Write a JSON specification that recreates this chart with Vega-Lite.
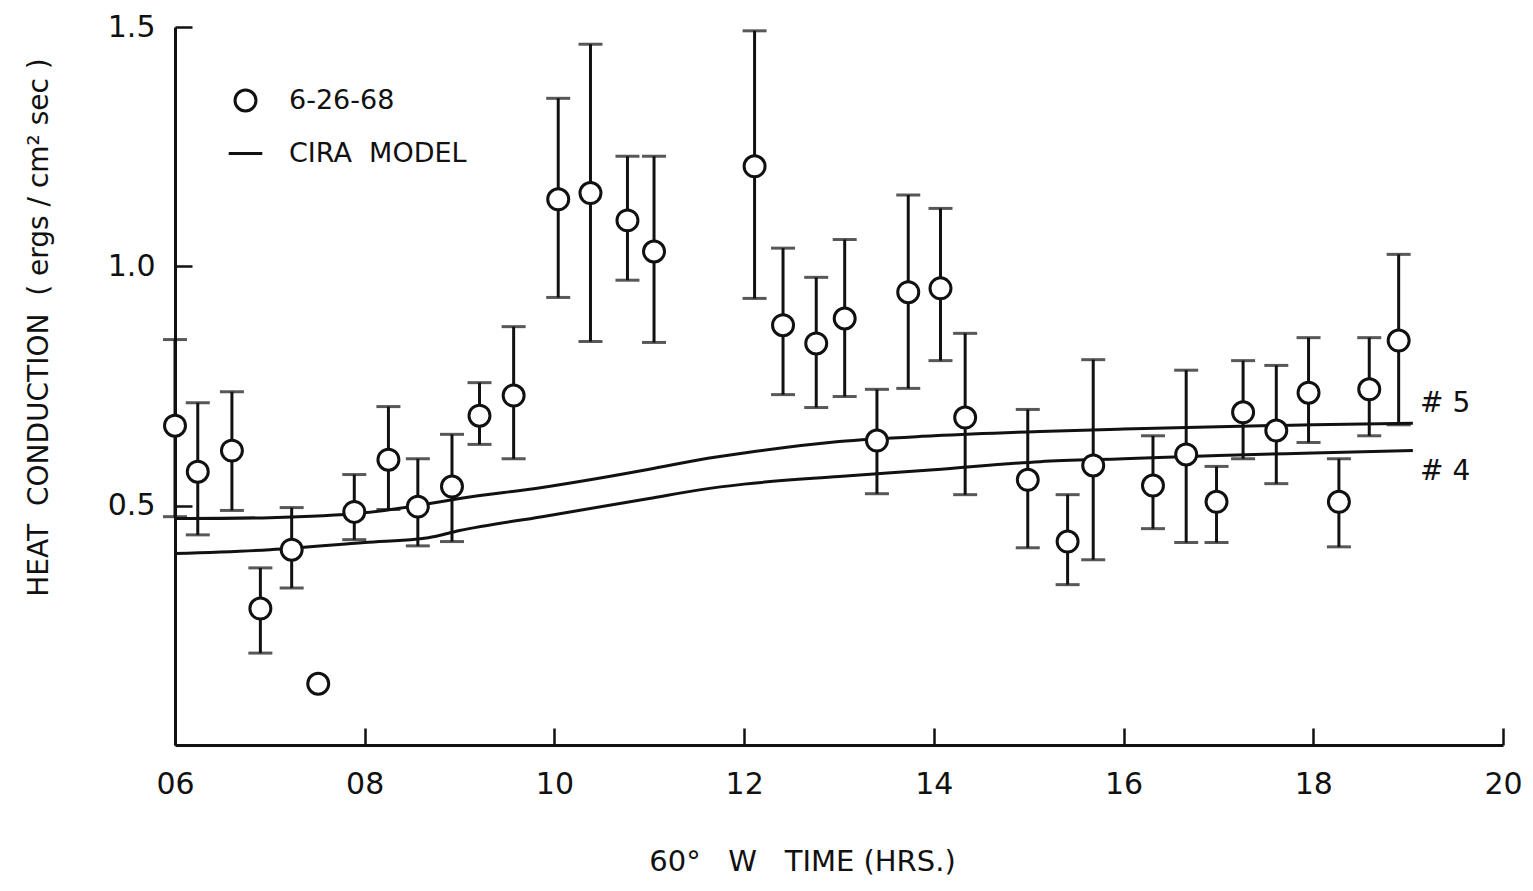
{
  "$schema": "https://vega.github.io/schema/vega-lite/v6.json",
  "width": 1328,
  "height": 718,
  "autosize": {"type": "none"},
  "padding": {"left": 175, "top": 27, "right": 30, "bottom": 146},
  "background": "white",
  "config": {
    "view": {"stroke": null},
    "font": "DejaVu Sans",
    "axis": {
      "grid": false,
      "domainColor": "#111",
      "domainWidth": 3,
      "tickColor": "#111",
      "tickWidth": 2.5,
      "tickSize": -17,
      "labelFlush": false,
      "labelColor": "#111",
      "labelFont": "DejaVu Sans",
      "labelFontSize": 30,
      "titleColor": "#111",
      "titleFont": "DejaVu Sans",
      "titleFontSize": 28,
      "titleFontWeight": "normal"
    }
  },
  "datasets": {
    "obs": [
      {"t": 6.0, "v": 0.667, "lo": 0.477, "hi": 0.847, "series": "6-26-68"},
      {"t": 6.24, "v": 0.571, "lo": 0.439, "hi": 0.715, "series": "6-26-68"},
      {"t": 6.6, "v": 0.615, "lo": 0.49, "hi": 0.738, "series": "6-26-68"},
      {"t": 6.9, "v": 0.285, "lo": 0.192, "hi": 0.37, "series": "6-26-68"},
      {"t": 7.23, "v": 0.408, "lo": 0.328, "hi": 0.496, "series": "6-26-68"},
      {"t": 7.51, "v": 0.128, "lo": null, "hi": null, "series": "6-26-68"},
      {"t": 7.89, "v": 0.487, "lo": 0.429, "hi": 0.565, "series": "6-26-68"},
      {"t": 8.25, "v": 0.596, "lo": 0.492, "hi": 0.707, "series": "6-26-68"},
      {"t": 8.56, "v": 0.498, "lo": 0.416, "hi": 0.598, "series": "6-26-68"},
      {"t": 8.92, "v": 0.54, "lo": 0.425, "hi": 0.649, "series": "6-26-68"},
      {"t": 9.21, "v": 0.688, "lo": 0.628, "hi": 0.757, "series": "6-26-68"},
      {"t": 9.57, "v": 0.73, "lo": 0.598, "hi": 0.874, "series": "6-26-68"},
      {"t": 10.04, "v": 1.14, "lo": 0.935, "hi": 1.351, "series": "6-26-68"},
      {"t": 10.38, "v": 1.153, "lo": 0.843, "hi": 1.464, "series": "6-26-68"},
      {"t": 10.77, "v": 1.096, "lo": 0.971, "hi": 1.23, "series": "6-26-68"},
      {"t": 11.05, "v": 1.031, "lo": 0.841, "hi": 1.23, "series": "6-26-68"},
      {"t": 12.11, "v": 1.209, "lo": 0.933, "hi": 1.492, "series": "6-26-68"},
      {"t": 12.41, "v": 0.877, "lo": 0.732, "hi": 1.038, "series": "6-26-68"},
      {"t": 12.76, "v": 0.839, "lo": 0.705, "hi": 0.977, "series": "6-26-68"},
      {"t": 13.06, "v": 0.891, "lo": 0.728, "hi": 1.056, "series": "6-26-68"},
      {"t": 13.4, "v": 0.636, "lo": 0.525, "hi": 0.743, "series": "6-26-68"},
      {"t": 13.73, "v": 0.946, "lo": 0.745, "hi": 1.149, "series": "6-26-68"},
      {"t": 14.07, "v": 0.954, "lo": 0.803, "hi": 1.121, "series": "6-26-68"},
      {"t": 14.33, "v": 0.684, "lo": 0.523, "hi": 0.86, "series": "6-26-68"},
      {"t": 14.99, "v": 0.554, "lo": 0.412, "hi": 0.701, "series": "6-26-68"},
      {"t": 15.41, "v": 0.425, "lo": 0.335, "hi": 0.523, "series": "6-26-68"},
      {"t": 15.68, "v": 0.584, "lo": 0.387, "hi": 0.805, "series": "6-26-68"},
      {"t": 16.31, "v": 0.542, "lo": 0.452, "hi": 0.646, "series": "6-26-68"},
      {"t": 16.66, "v": 0.607, "lo": 0.423, "hi": 0.783, "series": "6-26-68"},
      {"t": 16.98, "v": 0.508, "lo": 0.423, "hi": 0.582, "series": "6-26-68"},
      {"t": 17.26, "v": 0.695, "lo": 0.598, "hi": 0.803, "series": "6-26-68"},
      {"t": 17.61, "v": 0.657, "lo": 0.546, "hi": 0.793, "series": "6-26-68"},
      {"t": 17.95, "v": 0.736, "lo": 0.632, "hi": 0.851, "series": "6-26-68"},
      {"t": 18.27, "v": 0.508, "lo": 0.414, "hi": 0.598, "series": "6-26-68"},
      {"t": 18.59, "v": 0.743, "lo": 0.646, "hi": 0.851, "series": "6-26-68"},
      {"t": 18.9, "v": 0.845, "lo": 0.669, "hi": 1.025, "series": "6-26-68"}
    ],
    "model": [
      {"t": 6.0, "v": 0.473, "curve": "#5"},
      {"t": 7.0, "v": 0.475, "curve": "#5"},
      {"t": 8.0, "v": 0.485, "curve": "#5"},
      {"t": 8.67, "v": 0.504, "curve": "#5"},
      {"t": 9.0, "v": 0.515, "curve": "#5"},
      {"t": 9.87, "v": 0.538, "curve": "#5"},
      {"t": 11.0, "v": 0.576, "curve": "#5"},
      {"t": 11.53, "v": 0.596, "curve": "#5"},
      {"t": 12.0, "v": 0.61, "curve": "#5"},
      {"t": 13.0, "v": 0.634, "curve": "#5"},
      {"t": 14.0, "v": 0.646, "curve": "#5"},
      {"t": 15.12, "v": 0.655, "curve": "#5"},
      {"t": 16.0, "v": 0.66, "curve": "#5"},
      {"t": 17.0, "v": 0.665, "curve": "#5"},
      {"t": 18.0, "v": 0.669, "curve": "#5"},
      {"t": 19.05, "v": 0.672, "curve": "#5"},
      {"t": 6.0, "v": 0.4, "curve": "#4"},
      {"t": 7.0, "v": 0.408, "curve": "#4"},
      {"t": 8.0, "v": 0.423, "curve": "#4"},
      {"t": 8.67, "v": 0.433, "curve": "#4"},
      {"t": 9.0, "v": 0.448, "curve": "#4"},
      {"t": 9.87, "v": 0.477, "curve": "#4"},
      {"t": 11.0, "v": 0.515, "curve": "#4"},
      {"t": 11.53, "v": 0.533, "curve": "#4"},
      {"t": 12.0, "v": 0.545, "curve": "#4"},
      {"t": 13.0, "v": 0.561, "curve": "#4"},
      {"t": 14.0, "v": 0.575, "curve": "#4"},
      {"t": 15.12, "v": 0.592, "curve": "#4"},
      {"t": 16.0, "v": 0.598, "curve": "#4"},
      {"t": 17.0, "v": 0.605, "curve": "#4"},
      {"t": 18.0, "v": 0.61, "curve": "#4"},
      {"t": 19.05, "v": 0.615, "curve": "#4"}
    ],
    "notes": [
      {"t": 19.39, "v": 0.713, "label": "# 5"},
      {"t": 19.39, "v": 0.571, "label": "# 4"}
    ]
  },
  "encoding": {
    "x": {
      "field": "t",
      "type": "quantitative",
      "scale": {"domain": [6, 20], "nice": false},
      "axis": {
        "title": "60°\u00a0\u00a0\u00a0W\u00a0\u00a0\u00a0TIME\u00a0(HRS.)",
        "titleFontSize": 29,
        "values": [6, 8, 10, 12, 14, 16, 18, 20],
        "labelExpr": "datum.value < 10 ? '0' + datum.value : '' + datum.value",
        "labelPadding": 41,
        "titleX": 627,
        "titleY": 102
      }
    }
  },
  "layer": [
    {
      "data": {"name": "model"},
      "mark": {"type": "line", "color": "#111", "strokeWidth": 3, "interpolate": "monotone"},
      "encoding": {
        "y": {
          "field": "v",
          "type": "quantitative",
          "scale": {"domain": [0, 1.5], "nice": false},
          "title": "HEAT\u00a0\u00a0CONDUCTION\u00a0\u00a0(\u00a0ergs / cm² sec\u00a0)",
          "axis": {
            "values": [0.5, 1.0, 1.5],
            "format": ".1f",
            "labelPadding": 37,
            "titleX": -122,
            "titleY": 300
          }
        },
        "detail": {"field": "curve", "type": "nominal"}
      }
    },
    {
      "data": {"name": "obs"},
      "transform": [{"filter": "isValid(datum.lo)"}],
      "mark": {"type": "rule", "color": "#111", "strokeWidth": 3},
      "encoding": {
        "y": {"field": "lo", "type": "quantitative", "title": "HEAT\u00a0\u00a0CONDUCTION\u00a0\u00a0(\u00a0ergs / cm² sec\u00a0)"},
        "y2": {"field": "hi"}
      }
    },
    {
      "data": {"name": "obs"},
      "transform": [{"filter": "isValid(datum.lo)"}],
      "mark": {"type": "tick", "orient": "horizontal", "color": "#111", "size": 24, "thickness": 3},
      "encoding": {
        "y": {"field": "lo", "type": "quantitative", "title": "HEAT\u00a0\u00a0CONDUCTION\u00a0\u00a0(\u00a0ergs / cm² sec\u00a0)"}
      }
    },
    {
      "data": {"name": "obs"},
      "transform": [{"filter": "isValid(datum.hi)"}],
      "mark": {"type": "tick", "orient": "horizontal", "color": "#111", "size": 24, "thickness": 3},
      "encoding": {
        "y": {"field": "hi", "type": "quantitative", "title": "HEAT\u00a0\u00a0CONDUCTION\u00a0\u00a0(\u00a0ergs / cm² sec\u00a0)"}
      }
    },
    {
      "data": {"name": "obs"},
      "mark": {"type": "point", "filled": true, "fill": "white", "stroke": "#111", "strokeWidth": 3, "size": 440, "opacity": 1},
      "encoding": {
        "y": {"field": "v", "type": "quantitative", "title": "HEAT\u00a0\u00a0CONDUCTION\u00a0\u00a0(\u00a0ergs / cm² sec\u00a0)"},
        "shape": {
          "field": "series",
          "type": "nominal",
          "scale": {"domain": ["6-26-68", "CIRA\u00a0\u00a0MODEL"], "range": ["circle", "M-1.6,0L1.6,0"]},
          "legend": {
            "title": null,
            "orient": "none",
            "legendX": 57,
            "legendY": 60,
            "symbolSize": 440,
            "symbolStrokeWidth": 3,
            "labelFontSize": 27,
            "labelColor": "#111",
            "labelLimit": 500,
            "labelOffset": 30,
            "rowPadding": 22
          }
        }
      }
    },
    {
      "data": {"name": "notes"},
      "mark": {"type": "text", "color": "#111", "fontSize": 28, "font": "DejaVu Sans", "align": "center", "baseline": "middle"},
      "encoding": {
        "y": {"field": "v", "type": "quantitative", "title": "HEAT\u00a0\u00a0CONDUCTION\u00a0\u00a0(\u00a0ergs / cm² sec\u00a0)"},
        "text": {"field": "label", "type": "nominal"}
      }
    }
  ]
}
